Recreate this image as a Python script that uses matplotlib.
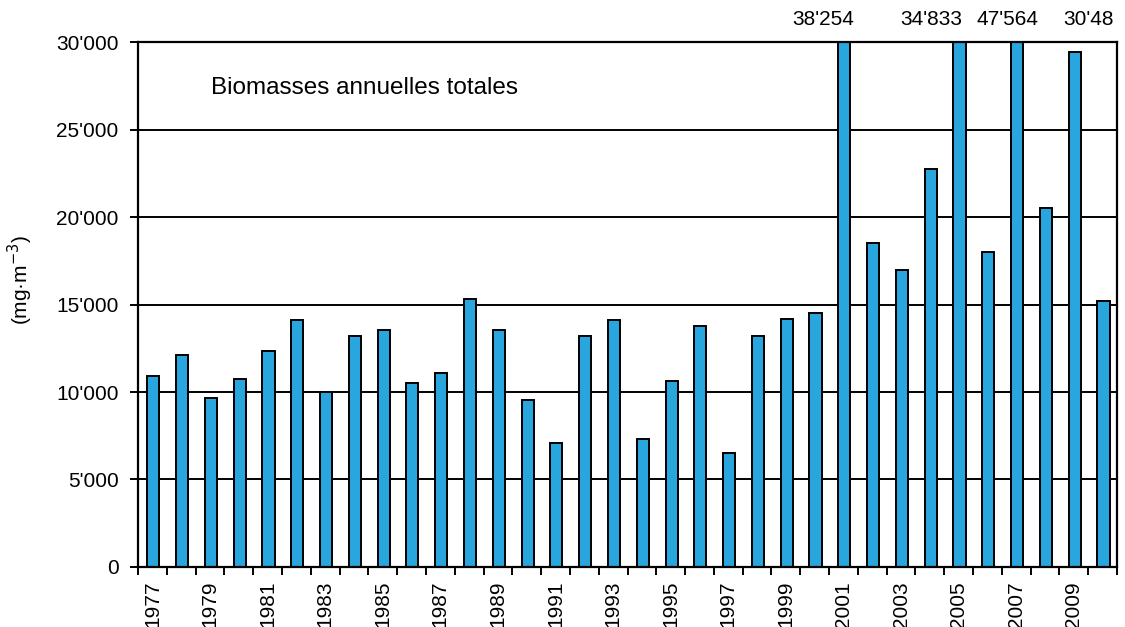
import numpy as np
import matplotlib
matplotlib.use("Agg")
import matplotlib.pyplot as plt
from matplotlib.ticker import FuncFormatter

plt.rcParams['font.family'] = ['Liberation Sans', 'DejaVu Sans']

# annual total biomass (mg/m3)
years = list(range(1977, 2011))
biomass = [10900, 12100, 9650, 10750, 12330, 14100, 10000, 13200, 13530, 10520,
           11090, 15320, 13530, 9530, 7090, 13200, 14090, 7310, 10650, 13760,
           6530, 13200, 14190, 14530, 38254, 18530, 16970, 22740, 34833, 17980,
           47564, 20530, 29410, 15200]

# labels written above the clipped bars
top_years = [2001, 2005, 2007, 2009]
top_labels = ["38'254", "34'833", "47'564", "30'48"]
label_shift = [-0.7, -0.94, -0.3, -0.35]
label_align = ['center', 'center', 'center', 'left']

bar_color = '#29a6de'

fig = plt.figure(figsize=(11.25, 6.27), dpi=100)
ax = fig.add_axes([0.1227, 0.0957, 0.8702, 0.8373])

x = np.arange(len(years))
ax.bar(x + 0.03, biomass, width=0.42, color=bar_color, edgecolor='black',
       linewidth=1.4, zorder=3)

ax.set_ylim(0, 30000)
ax.set_xlim(-0.5, len(years) - 0.5)
ax.set_yticks(np.arange(0, 30001, 5000))
ax.yaxis.set_major_formatter(FuncFormatter(lambda v, p: '0' if v == 0 else "{:,}".format(int(v)).replace(',', "'")))
ax.yaxis.grid(True, color='black', linewidth=1.4, zorder=0)
ax.tick_params(axis='y', length=6, width=1.4, labelsize=15, pad=8)

# year labels on odd years, ticks between categories
ax.set_xticks(x[::2])
ax.set_xticklabels([str(y) for y in years[::2]], rotation=90, fontsize=15)
ax.tick_params(axis='x', length=0, pad=10)
ax.set_xticks(np.arange(-0.5, len(years), 1.0), minor=True)
ax.tick_params(axis='x', which='minor', length=6, width=1.4)

for s in ax.spines.values():
    s.set_color('black')
    s.set_linewidth(1.6)
    s.set_zorder(4)

ax.set_ylabel('(mg·m$^{-3}$)', fontsize=15, labelpad=18)
ax.yaxis.set_label_coords(-0.105, 0.547)
ax.text(2.03, 27400, 'Biomasses annuelles totales', fontsize=17.5, va='center', ha='left')

for yr, lab, dx, al in zip(top_years, top_labels, label_shift, label_align):
    i = years.index(yr)
    ax.text(i + dx, 31300, lab, fontsize=15, ha=al, va='center', clip_on=False)

fig.savefig('out.png', dpi=100)
